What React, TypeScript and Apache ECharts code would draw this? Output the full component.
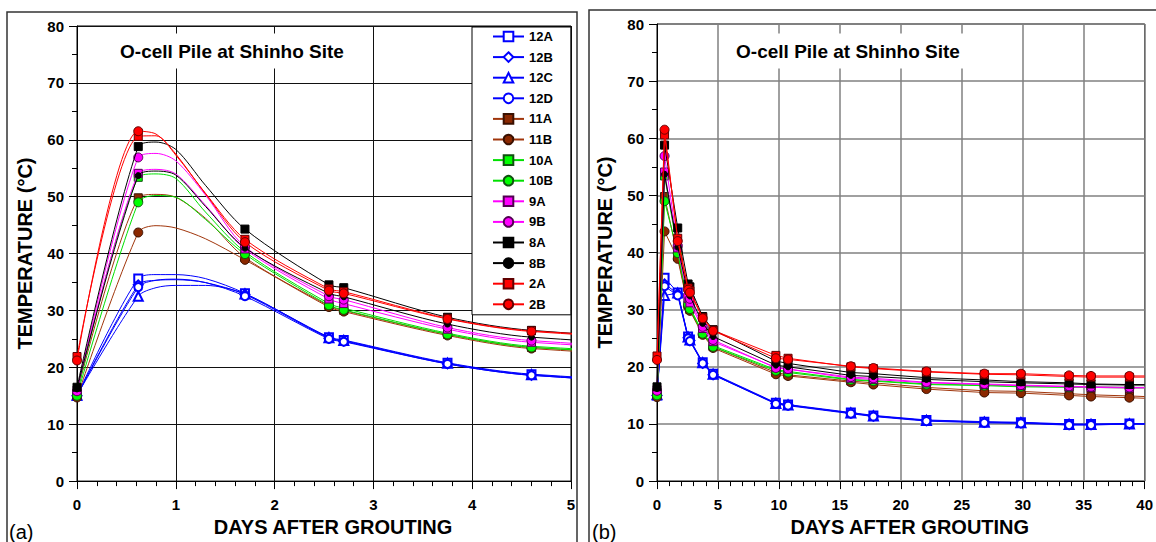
import React, { useEffect, useRef } from "react";
import * as echarts from "echarts";

// Measurement times (days after grouting)
const TIMES = [0, 0.62, 1.7, 2.55, 2.7, 3.75, 4.6, 9.75, 10.75, 15.9, 17.75, 22.1, 26.85, 29.85, 33.8, 35.6, 38.75];
// Extra points of the fitted curves in panel (a)
const CURVE_TIMES = [0.8, 1.0, 1.3];
// End of the lines in panel (b)
const END_TIME = 40;

const NAMES = ["12A", "12B", "12C", "12D", "11A", "11B", "10A", "10B", "9A", "9B", "8A", "8B", "2A", "2B"];

const V12A = [15.0, 35.6, 33.0, 25.3, 24.8, 20.8, 18.8, 13.7, 13.4, 12.0, 11.5, 10.7, 10.4, 10.3, 10.0, 10.0, 10.1];
const V12B = [15.0, 34.5, 32.8, 25.1, 24.6, 20.6, 18.6, 13.6, 13.3, 11.9, 11.4, 10.6, 10.3, 10.2, 9.9, 9.9, 10.0];
const V12C = [15.1, 32.5, 32.9, 25.2, 24.7, 20.7, 18.7, 13.6, 13.3, 11.9, 11.4, 10.6, 10.3, 10.2, 9.9, 9.9, 10.0];
const V12D = [15.0, 34.1, 32.5, 25.0, 24.5, 20.6, 18.6, 13.5, 13.2, 11.8, 11.3, 10.5, 10.2, 10.1, 9.8, 9.8, 10.0];
const V11A = [15.5, 49.8, 39.3, 30.8, 30.0, 25.8, 23.5, 19.0, 18.6, 17.5, 17.2, 16.4, 15.8, 15.7, 15.3, 15.1, 14.9];
const V11B = [14.7, 43.7, 38.9, 30.6, 29.8, 25.6, 23.3, 18.7, 18.4, 17.3, 16.9, 16.1, 15.5, 15.4, 15.0, 14.8, 14.6];
const V10A = [15.3, 53.4, 40.3, 31.2, 30.4, 26.0, 23.7, 19.5, 19.2, 17.8, 17.6, 17.0, 16.8, 16.6, 16.5, 16.5, 16.4];
const V10B = [15.0, 49.0, 39.9, 30.9, 30.1, 25.8, 23.5, 19.3, 19.0, 17.7, 17.5, 16.9, 16.7, 16.5, 16.4, 16.4, 16.3];
const V9A = [16.0, 54.1, 40.8, 32.0, 31.2, 26.7, 24.4, 19.9, 19.6, 18.0, 17.8, 17.2, 16.9, 16.7, 16.5, 16.4, 16.3];
const V9B = [15.8, 56.9, 41.2, 32.5, 31.9, 27.0, 24.7, 19.8, 19.6, 18.2, 18.0, 17.3, 17.0, 16.8, 16.6, 16.5, 16.4];
const V8A = [16.5, 58.8, 44.3, 34.5, 34.0, 28.8, 26.5, 21.0, 20.6, 19.0, 18.8, 18.1, 17.7, 17.4, 17.2, 17.0, 16.9];
const V8B = [16.2, 53.7, 41.0, 33.0, 32.4, 27.6, 25.3, 20.3, 20.0, 18.5, 18.3, 17.8, 17.4, 17.2, 17.0, 16.9, 16.8];
const V2A = [21.9, 60.6, 42.5, 33.8, 33.3, 28.6, 26.4, 22.0, 21.5, 20.0, 19.7, 19.1, 18.7, 18.6, 18.3, 18.2, 18.2];
const V2B = [21.2, 61.5, 42.0, 33.5, 33.0, 28.5, 26.3, 21.5, 21.3, 20.1, 19.8, 19.2, 18.8, 18.8, 18.5, 18.4, 18.4];

const C12A = [36.3, 36.3, 35.6];
const C12B = [35.3, 35.4, 34.9];
const C12C = [34.0, 34.4, 34.4];
const C12D = [35.3, 35.5, 34.9];
const C11A = [50.4, 49.9, 46.2];
const C11B = [44.9, 44.5, 42.6];
const C10A = [54.0, 53.2, 47.3];
const C10B = [50.2, 49.9, 46.0];
const C9A = [54.8, 54.0, 48.5];
const C9B = [57.6, 56.3, 50.3];
const C8A = [59.6, 58.3, 52.0];
const C8B = [54.5, 53.8, 48.3];
const C2A = [60.7, 57.3, 50.6];
const C2B = [61.0, 57.5, 50.5];

const END_VALUES = [10.0, 10.0, 10.0, 10.0, 14.8, 14.5, 16.4, 16.3, 16.3, 16.4, 16.9, 16.8, 18.2, 18.4];

const VALUES = [V12A, V12B, V12C, V12D, V11A, V11B, V10A, V10B, V9A, V9B, V8A, V8B, V2A, V2B];
const CURVES = [C12A, C12B, C12C, C12D, C11A, C11B, C10A, C10B, C9A, C9B, C8A, C8B, C2A, C2B];

// styles
const BLUE = "#0000ff";
const BROWN = "#a0360c";
const BROWN_FILL = "#8b2800";
const GREEN = "#00e000";
const GREEN_FILL = "#00ff00";
const MAGENTA = "#ff00ff";
const BLACK = "#000000";
const RED = "#ff0000";

const STYLES = [
  { line: BLUE, fill: BLUE, symbol: "emptyRect", size: 8, border: BLUE, bw: 1.3 },
  { line: BLUE, fill: BLUE, symbol: "emptyDiamond", size: 9, border: BLUE, bw: 1.3 },
  { line: BLUE, fill: BLUE, symbol: "emptyTriangle", size: 9, border: BLUE, bw: 1.3 },
  { line: BLUE, fill: BLUE, symbol: "emptyCircle", size: 8, border: BLUE, bw: 1.3 },
  { line: BROWN, fill: BROWN_FILL, symbol: "rect", size: 8, border: "#3a1000", bw: 1 },
  { line: BROWN, fill: BROWN_FILL, symbol: "circle", size: 9, border: "#3a1000", bw: 1 },
  { line: GREEN, fill: GREEN_FILL, symbol: "rect", size: 8, border: "#105010", bw: 1 },
  { line: GREEN, fill: GREEN_FILL, symbol: "circle", size: 9, border: "#105010", bw: 1 },
  { line: MAGENTA, fill: MAGENTA, symbol: "rect", size: 8, border: "#500050", bw: 1 },
  { line: MAGENTA, fill: MAGENTA, symbol: "circle", size: 9, border: "#500050", bw: 1 },
  { line: BLACK, fill: BLACK, symbol: "rect", size: 8, border: BLACK, bw: 1 },
  { line: BLACK, fill: BLACK, symbol: "circle", size: 6, border: BLACK, bw: 1 },
  { line: RED, fill: RED, symbol: "rect", size: 8, border: "#600000", bw: 1 },
  { line: RED, fill: RED, symbol: "circle", size: 9, border: "#600000", bw: 1 },
];

const FONT = 'Arial, "Liberation Sans", Helvetica, sans-serif';

function leftData(i: number) {
  const pts: any[] = TIMES.map((t, k) => ({ value: [t, VALUES[i][k]] }));
  CURVE_TIMES.forEach((t, k) => pts.push({ value: [t, CURVES[i][k]], symbol: "none" }));
  pts.sort((a, b) => a.value[0] - b.value[0]);
  return pts;
}

function rightData(i: number) {
  const pts: any[] = TIMES.map((t, k) => ({ value: [t, VALUES[i][k]] }));
  pts.push({ value: [END_TIME, END_VALUES[i]], symbol: "none" });
  return pts;
}

function makeAxisX(grid: number, max: number, interval: number, gridColor: string, gridWidth: number) {
  return {
    type: "value",
    gridIndex: grid,
    min: 0,
    max,
    interval,
    axisLine: { show: true, onZero: false, lineStyle: { color: "#000", width: 1 } },
    axisTick: { show: true, length: 8, lineStyle: { color: "#000", width: 1 } },
    minorTick: { show: true, splitNumber: 5, length: 5, lineStyle: { color: "#000", width: 1 } },
    splitLine: { show: true, lineStyle: { color: gridColor, width: gridWidth } },
    axisLabel: { fontWeight: "bold", fontSize: 15, color: "#000", margin: 16, fontFamily: FONT },
    name: "DAYS AFTER GROUTING",
    nameLocation: "middle",
    nameGap: 31,
    nameTextStyle: { fontWeight: "bold", fontSize: 20, color: "#000", fontFamily: FONT, padding: [0, 0, 0, 18] },
  };
}

function makeAxisY(grid: number, gridColor: string, gridWidth: number) {
  return {
    type: "value",
    gridIndex: grid,
    min: 0,
    max: 80,
    interval: 10,
    axisLine: { show: true, onZero: false, lineStyle: { color: "#000", width: 1 } },
    axisTick: { show: true, length: 8, lineStyle: { color: "#000", width: 1 } },
    minorTick: { show: true, splitNumber: 2, length: 5, lineStyle: { color: "#000", width: 1 } },
    splitLine: { show: true, lineStyle: { color: gridColor, width: gridWidth } },
    axisLabel: { fontWeight: "bold", fontSize: 15, color: "#000", margin: 13, fontFamily: FONT },
    name: "TEMPERATURE (°C)",
    nameLocation: "middle",
    nameGap: 42,
    nameTextStyle: { fontWeight: "bold", fontSize: 20, color: "#000", fontFamily: FONT },
  };
}

export default function App() {
  const ref = useRef<HTMLDivElement>(null);

  useEffect(() => {
    if (!ref.current) return;
    const chart = echarts.init(ref.current, null, { renderer: "svg" });

    const series: any[] = [];
    NAMES.forEach((name, i) => {
      const st = STYLES[i];
      const common = {
        type: "line",
        name,
        symbol: st.symbol,
        symbolSize: st.size,
        lineStyle: { color: st.line, width: 1 },
        itemStyle: { color: st.fill, borderColor: st.border, borderWidth: st.bw },
        emphasis: { disabled: true },
        silent: true,
        z: 2 + i * 0.01,
      };
      series.push({ ...common, xAxisIndex: 0, yAxisIndex: 0, smooth: 0.3, data: leftData(i) });
      series.push({ ...common, xAxisIndex: 1, yAxisIndex: 1, smooth: false, data: rightData(i) });
    });

    const option: any = {
      animation: false,
      backgroundColor: "#fff",
      textStyle: { fontFamily: FONT },
      grid: [
        { left: 77, top: 26, width: 494, height: 460, show: true, borderColor: "#000", borderWidth: 1, backgroundColor: "transparent" },
        { left: 657, top: 24, width: 492, height: 462, show: true, borderColor: "#000", borderWidth: 1, backgroundColor: "transparent" },
      ],
      xAxis: [makeAxisX(0, 5, 1, "#111", 1), makeAxisX(1, 40, 5, "#808080", 1.5)],
      yAxis: [makeAxisY(0, "#111", 1), makeAxisY(1, "#808080", 1.5)],
      legend: {
        data: NAMES,
        orient: "vertical",
        left: 472,
        top: 27,
        itemWidth: 31,
        itemHeight: 12,
        itemGap: 7.6,
        padding: [3, 18, 4, 20],
        backgroundColor: "#fff",
        borderColor: "#000",
        borderWidth: 1,
        borderRadius: 0,
        selectedMode: false,
        textStyle: { fontWeight: "bold", fontSize: 13, color: "#000", fontFamily: FONT },
        z: 20,
      },
      graphic: [
        {
          type: "text",
          x: 232,
          y: 51,
          z: 50,
          style: {
            text: "O-cell Pile at Shinho Site",
            font: `bold 19px ${FONT}`,
            fill: "#000",
            align: "center",
            verticalAlign: "middle",
            backgroundColor: "#fff",
            padding: [8, 8],
          },
        },
        {
          type: "text",
          x: 848,
          y: 51,
          z: 50,
          style: {
            text: "O-cell Pile at Shinho Site",
            font: `bold 19px ${FONT}`,
            fill: "#000",
            align: "center",
            verticalAlign: "middle",
            backgroundColor: "#fff",
            padding: [8, 8],
          },
        },
        {
          type: "rect",
          z: 60,
          shape: { x: 7, y: 12, width: 570, height: 540 },
          style: { fill: "none", stroke: "#333", lineWidth: 1.5 },
        },
        {
          type: "rect",
          z: 60,
          shape: { x: 589, y: 10, width: 580, height: 545 },
          style: { fill: "none", stroke: "#333", lineWidth: 1.5 },
        },
        {
          type: "text",
          x: 9,
          y: 532,
          z: 60,
          style: { text: "(a)", font: `20px ${FONT}`, fill: "#000", verticalAlign: "middle" },
        },
        {
          type: "text",
          x: 592,
          y: 532,
          z: 60,
          style: { text: "(b)", font: `20px ${FONT}`, fill: "#000", verticalAlign: "middle" },
        },
      ],
      series,
    };

    chart.setOption(option);
    return () => chart.dispose();
  }, []);

  return (
    <div
      ref={ref}
      style={{ position: "absolute", left: 0, top: 0, width: 1156, height: 542, background: "#fff" }}
    />
  );
}
